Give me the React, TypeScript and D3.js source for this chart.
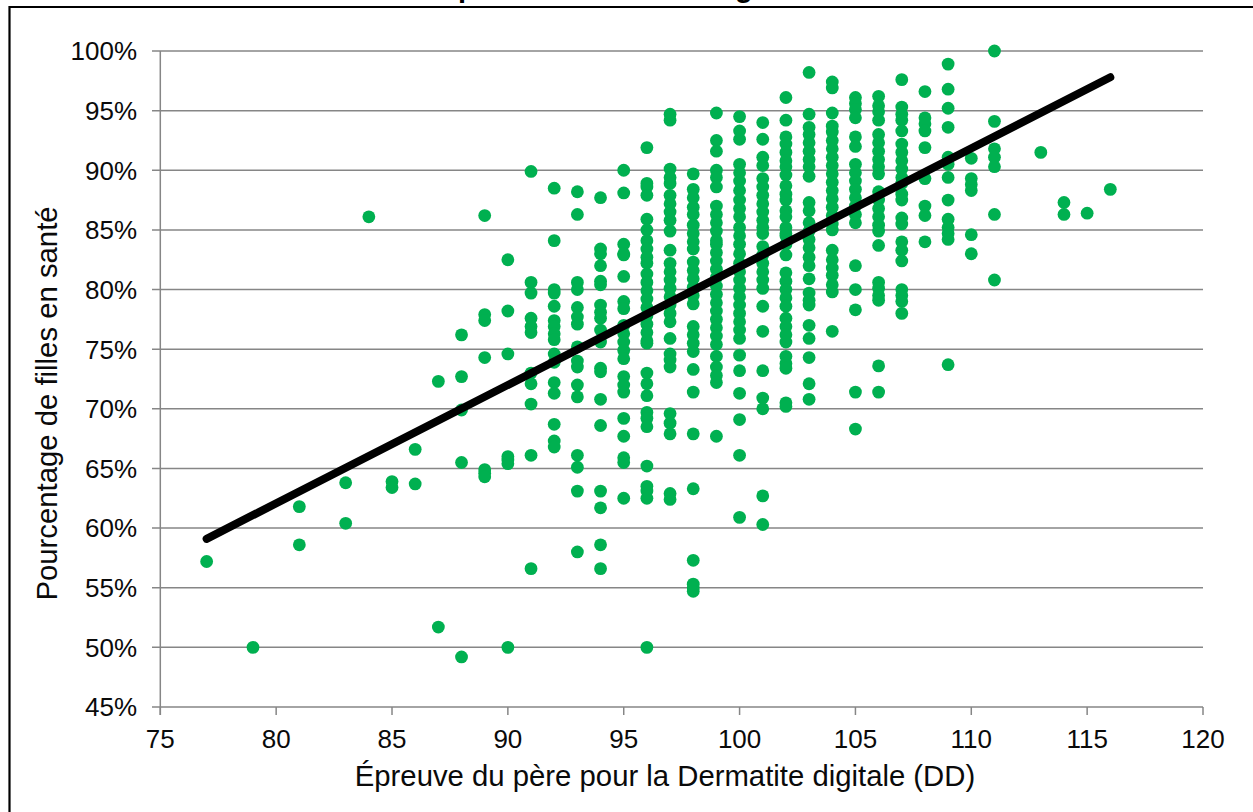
import React from "react";
import * as d3 from "d3";

// one list of percentages per sire score
const scores = [77, 79, 81, 83, 84, 85, 86, 87, 88, 89, 90, 91, 92, 93, 94, 95, 96, 97, 98, 99, 100, 101, 102, 103, 104, 105, 106, 107, 108, 109, 110, 111, 113, 114, 115, 116];

const healthy: number[][] = [
  [57.2],
  [50],
  [61.8, 58.6],
  [63.8, 60.4],
  [86.1],
  [63.9, 63.4],
  [66.6, 63.7],
  [72.3, 51.7],
  [76.2, 72.7, 69.9, 65.5, 49.2],
  [86.2, 77.9, 77.4, 74.3, 64.9, 64.6, 64.3],
  [82.5, 78.2, 74.6, 66, 65.7, 65.4, 50],
  [89.9, 80.6, 79.7, 77.6, 76.9, 76.4, 73, 72.1, 70.4, 66.1, 56.6],
  [88.5, 84.1, 80, 79.7, 78.6, 77.4, 76.9, 76.3, 75.8, 74.6, 73.9, 72.2, 71.3, 68.7, 67.3, 66.8],
  [88.2, 86.3, 80.6, 80, 78.5, 77.7, 77.1, 75.2, 74, 73.5, 72, 71, 66.1, 65.1, 63.1, 58],
  [87.7, 83.4, 83, 82, 80.7, 80.4, 78.7, 78.1, 77.6, 76.6, 75.6, 73.4, 73.1, 70.8, 68.6, 63.1, 61.7, 58.6, 56.6],
  [90, 88.1, 83.8, 83, 82.9, 81.1, 79, 78.4, 77, 76.3, 75.6, 74.9, 74.2, 72.7, 72, 71.4, 69.2, 67.7, 65.9, 65.5, 62.5],
  [91.9, 88.9, 88.6, 87.9, 85.9, 85, 84.1, 83.4, 82.7, 82.2, 81.3, 80.6, 79.9, 79.2, 78.5, 77.8, 77.1, 76.4, 75.7, 75.5, 73, 72.1, 71.1, 69.7, 69.2, 68.5, 65.2, 63.5, 63.1, 62.5, 50],
  [94.7, 94.2, 90.1, 89.4, 88.9, 87.9, 87.2, 86.5, 85.8, 84.9, 83.3, 82.2, 81.5, 80.8, 80.1, 79.4, 78.7, 78, 77.3, 75.9, 74.6, 74.1, 73.5, 69.6, 68.8, 67.9, 62.9, 62.4],
  [89.7, 88.4, 87.7, 86.9, 86.3, 85.4, 84.7, 84, 83.4, 82.3, 81.6, 80.9, 80.2, 79.5, 78.8, 76.9, 76.2, 75.5, 74.8, 73.3, 71.4, 67.9, 63.3, 57.3, 55.3, 55, 54.7],
  [94.8, 92.5, 91.6, 90, 89.4, 88.6, 87, 86.3, 85.6, 84.9, 84.1, 83.8, 83.1, 82.4, 81.7, 81, 80.3, 79.6, 78.9, 78.2, 77.5, 76.8, 76.1, 75.4, 74.4, 73.5, 72.8, 72.2, 67.7],
  [94.5, 93.3, 92.6, 90.5, 89.8, 89.1, 88.3, 87.5, 86.8, 86.1, 85.2, 84.5, 83.8, 83, 82.2, 81.5, 80.8, 80.1, 79.4, 78.7, 78, 77.3, 76.6, 75.9, 74.5, 73.2, 71.3, 69.1, 66.1, 60.9],
  [94, 92.6, 91.1, 90.4, 89.3, 88.6, 87.9, 87.2, 86.5, 85.8, 85.2, 84.7, 83.6, 82.9, 82.2, 81.5, 80.8, 80.1, 78.6, 76.5, 73.2, 70.9, 70, 62.7, 60.3],
  [96.1, 94.2, 92.8, 92.2, 91.5, 90.8, 90.3, 89.6, 88.7, 88, 87.5, 86.6, 86.1, 85.2, 84.7, 84.5, 83.8, 82.9, 81.4, 80.7, 80, 79.3, 78.6, 77.6, 76.9, 76.2, 75.6, 74.4, 73.8, 73.4, 70.5, 70.2],
  [98.2, 94.7, 93.6, 93, 92.3, 91.6, 90.9, 90.3, 89.5, 87.3, 86.6, 85.6, 84.9, 84.2, 83.5, 82.7, 82, 80.9, 79.7, 79.1, 78.7, 77, 75.9, 74.3, 72.1, 70.8],
  [97.4, 96.9, 94.8, 93.7, 93.2, 92.5, 91.8, 91.1, 90.4, 89.7, 89, 88.3, 87.6, 86.9, 86.2, 85.5, 85, 83.3, 82.5, 81.8, 81.2, 80.4, 79.8, 76.5],
  [96.1, 95.6, 95.1, 94.4, 92.8, 92, 90.5, 89.8, 89.1, 88.4, 87.7, 87, 86.3, 85.6, 82, 80, 78.3, 71.4, 68.3],
  [96.2, 95.4, 94.9, 94.2, 93, 92.3, 91.6, 90.9, 90.3, 89.7, 88.2, 87.5, 86.8, 86.1, 85.4, 84.9, 83.7, 80.6, 80.1, 79.5, 79.1, 73.6, 71.4],
  [97.6, 95.3, 94.7, 94.2, 93.3, 92.2, 91.5, 90.8, 90.1, 89.4, 88.9, 88, 87.5, 86, 85.5, 84, 83.3, 82.4, 80, 79.5, 79, 78],
  [96.6, 94.4, 93.9, 93.3, 91.9, 89.3, 87, 86.2, 84],
  [98.9, 96.8, 95.2, 93.6, 91.1, 90.5, 89.4, 87.5, 85.9, 85.2, 84.7, 84.2, 73.7],
  [91, 89.3, 88.8, 88.3, 84.6, 83],
  [100, 94.1, 91.8, 91.1, 90.3, 86.3, 80.8],
  [91.5],
  [87.3, 86.3],
  [86.4],
  [88.4],
];

const trendX = [77, 116];
const trendY = [59.1, 97.8];

const xTicks = [75, 80, 85, 90, 95, 100, 105, 110, 115, 120];
const yTicks = [45, 50, 55, 60, 65, 70, 75, 80, 85, 90, 95, 100];

const width = 1253;
const height = 812;
const font = "'Liberation Sans', Arial, sans-serif";
const gridColor = "#868686";
const textColor = "#0a0a0a";

export default function App() {
  const x = d3.scaleLinear().domain([75, 120]).range([160.3, 1203]);
  const y = d3.scaleLinear().domain([45, 100]).range([707, 51]);
  const trend = d3.line<number>()
    .x((d) => x(d))
    .y((_, i) => y(trendY[i]));

  return (
    <svg
      width={width}
      height={height}
      style={{ position: "absolute", left: 0, top: 0, background: "#fff" }}
      fontFamily={font}
      fill="#000"
    >
      {/* title is cut by the page edge, only these descenders show */}
      <g fontWeight="bold" fontSize={29}>
        <text x={458} y={-3.2}>p</text>
        <text x={735} y={-3}>g</text>
      </g>
      <path d={`M9.5 ${height}V7H${width}`} fill="none" stroke="#000" strokeWidth={2.2} />

      {yTicks.map((t) => (
        <g key={t}>
          <line x1={152} x2={x(120)} y1={y(t)} y2={y(t)} stroke={gridColor} strokeWidth={1.5} />
          <text x={137} y={y(t)} dy="0.36em" textAnchor="end" fontSize={26} fill={textColor}>{t}%</text>
        </g>
      ))}
      <line x1={x(75)} x2={x(75)} y1={y(100)} y2={715} stroke={gridColor} strokeWidth={1.5} />
      {xTicks.map((t) => (
        <g key={t}>
          <line x1={x(t)} x2={x(t)} y1={707} y2={715} stroke={gridColor} strokeWidth={1.5} />
          <text x={x(t)} y={748} textAnchor="middle" fontSize={26} fill={textColor}>{t}</text>
        </g>
      ))}

      {scores.map((s, i) =>
        healthy[i].map((v, j) => (
          <circle key={`${s}-${j}`} cx={x(s)} cy={y(v)} r={6.4} fill="#00B050" />
        ))
      )}
      <path
        d={trend(trendX) ?? ""}
        fill="none"
        stroke="#000"
        strokeWidth={8}
        strokeLinecap="round"
      />

      <text x={665} y={786} textAnchor="middle" fontSize={29.3} fill={textColor}>
        Épreuve du père pour la Dermatite digitale (DD)
      </text>
      <text
        transform="translate(57,403.5) rotate(-90)"
        textAnchor="middle"
        fontSize={29.3}
        fill={textColor}
      >
        Pourcentage de filles en santé
      </text>
    </svg>
  );
}
